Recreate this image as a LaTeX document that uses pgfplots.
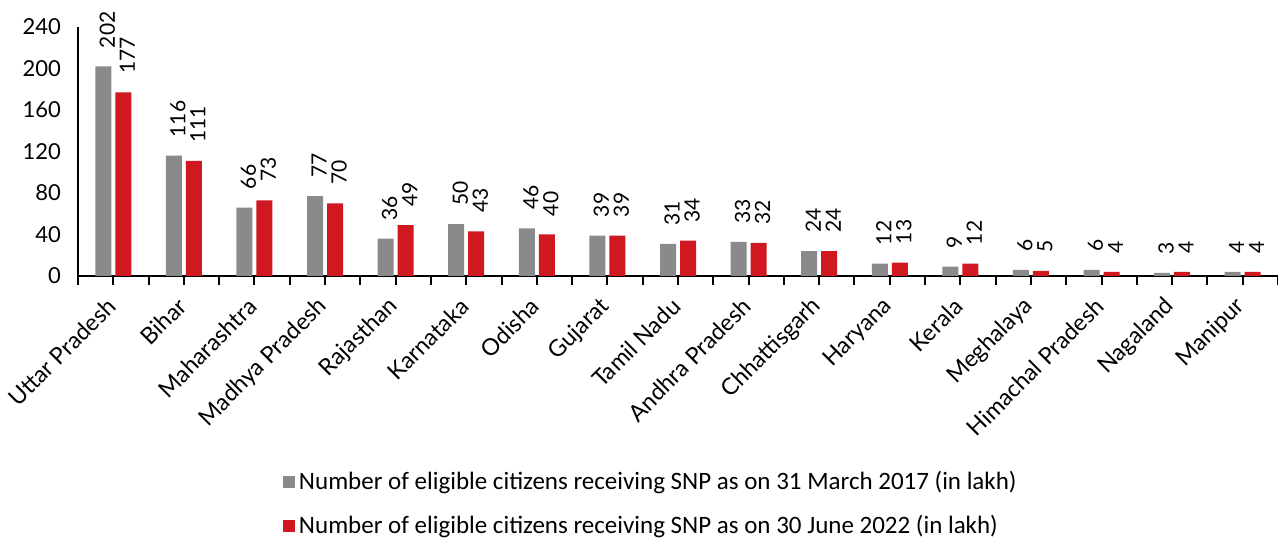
\documentclass[border=0pt]{standalone}
\usepackage{fontspec}
\setmainfont{Lato}
\newfontfamily\legfont{Carlito}
\usepackage{pgfplots}
\pgfplotsset{compat=1.18}
\definecolor{bgray}{RGB}{138,138,140}
\definecolor{bred}{RGB}{207,24,32}
\begin{document}
\begin{tikzpicture}
\begin{axis}[
  name=ax,
  scale only axis,
  width=600pt, height=124.5pt,
  xmin=-0.5, xmax=16.5,
  ymin=0, ymax=240,
  ytick={0,40,...,240},
  /pgf/number format/assume math mode=true,
  axis x line*=bottom,
  axis y line*=left,
  axis line style={black},
  x axis line style={line width=1.3pt},
  y axis line style={line width=0.9pt},
  ytick style={draw=none},
  xtick={-0.5,0.5,...,16.5},
  xticklabels={},
  xtick style={draw=black, line width=1pt},
  major tick length=4.5pt,
  xtick align=outside,
  extra x ticks={0,...,16},
  extra x tick labels={Uttar Pradesh,Bihar,Maharashtra,Madhya Pradesh,Rajasthan,Karnataka,Odisha,Gujarat,Tamil Nadu,Andhra Pradesh,Chhattisgarh,Haryana,Kerala,Meghalaya,Himachal Pradesh,Nagaland,Manipur},
  extra x tick style={tick style={draw=none}, xticklabel shift=8pt, xticklabel style={rotate=45, anchor=east, font=\fontsize{11.6}{14}\selectfont, inner sep=1pt}},
  yticklabel style={font=\fontsize{11}{13}\selectfont, xshift=-5pt},
  ybar=2pt,
  bar width=8pt,
  nodes near coords,
  every node near coord/.append style={xshift=2pt, rotate=90, anchor=west, font=\fontsize{10.5}{12}\selectfont, inner xsep=9pt, inner ysep=0pt},
  enlarge x limits=false,
  clip=false,
  legend style={at={(0.1655,-0.752)}, anchor=north west, draw=none, fill=none, font=\legfont\fontsize{12.5}{14}\selectfont, row sep=7pt, legend cell align=left},
  legend image code/.code={\fill[#1] (0pt,-3pt) rectangle (6pt,3pt);},
]
\addplot[fill=bgray, draw=none] coordinates {(0,202) (1,116) (2,66) (3,77) (4,36) (5,50) (6,46) (7,39) (8,31) (9,33) (10,24) (11,12) (12,9) (13,6) (14,6) (15,3) (16,4)};
\addplot[fill=bred, draw=none] coordinates {(0,177) (1,111) (2,73) (3,70) (4,49) (5,43) (6,40) (7,39) (8,34) (9,32) (10,24) (11,13) (12,12) (13,5) (14,4) (15,4) (16,4)};
\legend{Number of eligible citizens receiving SNP as on 31 March 2017 (in lakh), Number of eligible citizens receiving SNP as on 30 June 2022 (in lakh)}
\end{axis}
\pgfresetboundingbox
\path[use as bounding box] ([shift={(-39pt,-131.5pt)}]ax.south west) rectangle ([shift={(600pt,138pt)}]ax.south west);
\end{tikzpicture}
\end{document}
